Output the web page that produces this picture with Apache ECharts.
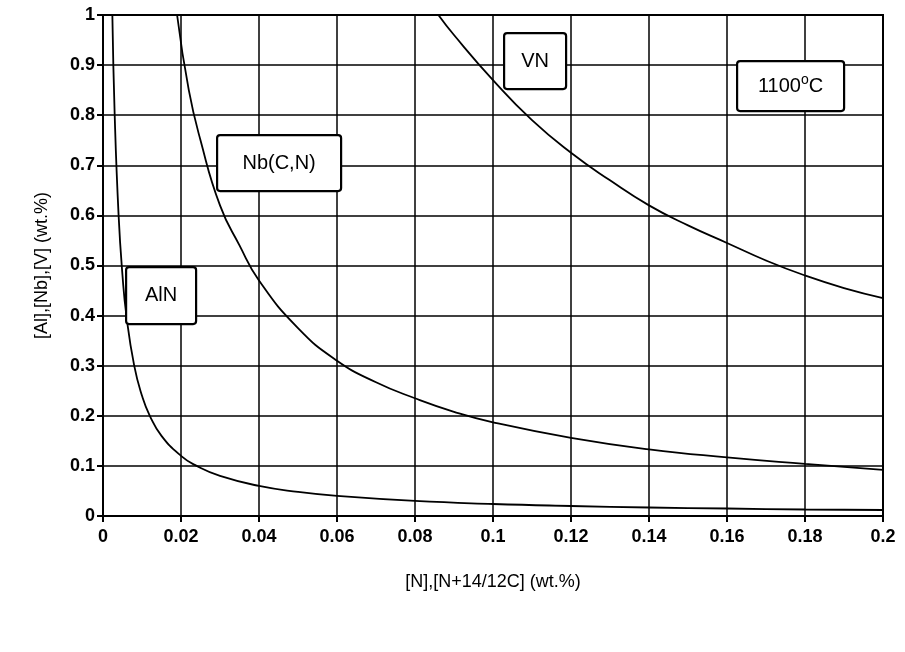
<!DOCTYPE html>
<html>
<head>
<meta charset="utf-8">
<script src="https://cdn.jsdelivr.net/npm/echarts@6/dist/echarts.min.js"></script>
<style>
  html, body { margin: 0; padding: 0; background: #fff; }
  #chart { width: 905px; height: 652px; }
</style>
</head>
<body>
<div id="chart"></div>
<script>
// values: [N] or [N+14/12C] (wt.%) vs [M] (wt.%)
var alnX = [0.0024, 0.003, 0.004, 0.005, 0.006, 0.008, 0.01, 0.012, 0.015, 0.02, 0.024, 0.03, 0.04, 0.05, 0.06, 0.08, 0.1, 0.12, 0.14, 0.16, 0.18, 0.2];
var alnY = [1.0, 0.8, 0.6, 0.48, 0.4, 0.3, 0.24, 0.2, 0.16, 0.12, 0.1, 0.08, 0.06, 0.048, 0.04, 0.03, 0.024, 0.02, 0.017, 0.015, 0.013, 0.012];

var nbX = [0.019, 0.022, 0.025, 0.03, 0.035, 0.04, 0.05, 0.06, 0.07, 0.08, 0.09, 0.1, 0.12, 0.14, 0.16, 0.18, 0.2];
var nbY = [1.0, 0.85, 0.75, 0.62, 0.54, 0.47, 0.375, 0.31, 0.267, 0.235, 0.208, 0.187, 0.156, 0.133, 0.117, 0.104, 0.092];

var vnX = [0.086, 0.09, 0.1, 0.11, 0.12, 0.13, 0.14, 0.15, 0.16, 0.17, 0.18, 0.19, 0.2];
var vnY = [1.0, 0.96, 0.87, 0.79, 0.725, 0.67, 0.62, 0.58, 0.545, 0.51, 0.48, 0.455, 0.435];

var xTitle = '[N],[N+14/12C] (wt.%)';
var yTitle = '[Al],[Nb],[V] (wt.%)';

function pairs(xs, ys) {
	return xs.map(function(x, i) { return [x, ys[i]]; });
}

var myChart = echarts.init(document.getElementById('chart'));

var font = 'Liberation Sans, Arial, sans-serif';

function curve(name, xs, ys) {
	return {
		name: name,
		type: 'line',
		data: pairs(xs, ys),
		smooth: true,
		showSymbol: false,
		clip: true,
		lineStyle: { color: '#000', width: 1.8 }
	};
}

function box(text, left, top, w, h) {
	return {
		type: 'group',
		left: left,
		top: top,
		z: 100,
		children: [
			{
				type: 'rect',
				z: 100,
				shape: { x: 0, y: 0, width: w, height: h, r: 3 },
				style: { fill: '#fff', stroke: '#000', lineWidth: 2.2 }
			},
			{
				type: 'text',
				z: 101,
				x: w / 2,
				y: h / 2,
				style: {
					text: text,
					fill: '#000',
					fontSize: 20,
					fontFamily: font,
					align: 'center',
					verticalAlign: 'middle',
					rich: {
						sup: { fontSize: 14, fontFamily: font, fill: '#000', padding: [0, 0, 12, 0] }
					}
				}
			}
		]
	};
}

var axisLine = { show: true, lineStyle: { color: '#000', width: 2 } };
var axisTick = { show: true, inside: false, length: 6, lineStyle: { color: '#000', width: 2 } };
var splitLine = { show: true, lineStyle: { color: '#000', width: 1.5 } };
var labelStyle = { color: '#000', fontSize: 18, fontFamily: font, fontWeight: 'bold' };
var nameStyle = { color: '#000', fontSize: 18, fontFamily: font };

var option = {
	backgroundColor: '#fff',
	animation: false,
	grid: { left: 103, right: 22, top: 15, bottom: 136, show: true, borderColor: '#000', borderWidth: 2 },
	xAxis: {
		type: 'value',
		min: 0,
		max: 0.2,
		interval: 0.02,
		name: xTitle,
		nameLocation: 'middle',
		nameGap: 57,
		nameTextStyle: nameStyle,
		axisLine: axisLine,
		axisTick: axisTick,
		splitLine: splitLine,
		axisLabel: Object.assign({}, labelStyle, {
			margin: 12,
			formatter: function(v) { return String(+v.toFixed(2)); }
		})
	},
	yAxis: {
		type: 'value',
		min: 0,
		max: 1,
		interval: 0.1,
		name: yTitle,
		nameLocation: 'middle',
		nameGap: 52,
		nameTextStyle: nameStyle,
		axisLine: axisLine,
		axisTick: axisTick,
		splitLine: splitLine,
		axisLabel: Object.assign({}, labelStyle, {
			margin: 8,
			formatter: function(v) { return String(+v.toFixed(1)); }
		})
	},
	series: [
		curve('AlN', alnX, alnY),
		curve('Nb(C,N)', nbX, nbY),
		curve('VN', vnX, vnY)
	],
	graphic: [
		box('VN', 503, 32, 62, 56),
		box('1100{sup|o}C', 736, 60, 107, 50),
		box('Nb(C,N)', 216, 134, 124, 56),
		box('AlN', 125, 266, 70, 57)
	]
};

myChart.setOption(option);

window.addEventListener('resize', function() {
	myChart.resize();
});
</script>
</body>
</html>
